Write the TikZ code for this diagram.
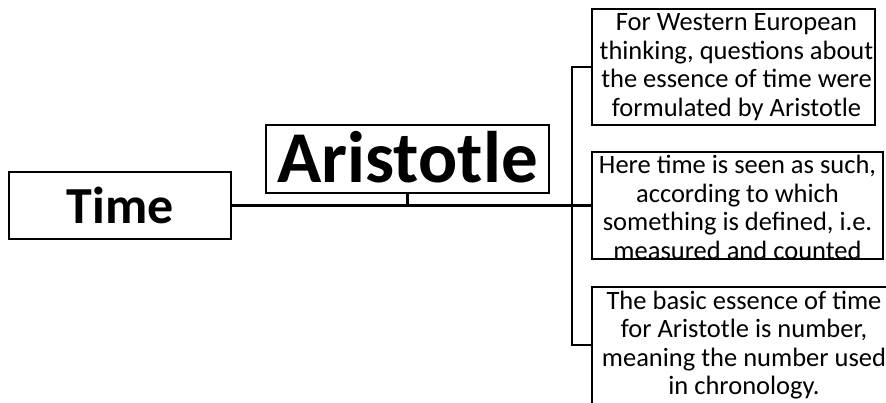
\documentclass[tikz,border=0pt]{standalone}
\usepackage{fontspec}
\setmainfont{Carlito}
\begin{document}
\begin{tikzpicture}[x=1pt,y=-1pt,
  box/.style={draw=black,line width=2.4pt,inner sep=0pt,fill=white},
  head/.style={font=\bfseries\fontsize{52}{56}\selectfont},
  title/.style={font=\bfseries\fontsize{73}{78}\selectfont},
  note/.style={font=\fontsize{26.5}{28.5}\selectfont,align=center,inner sep=0pt},
  link/.style={line width=2.4pt}]
\useasboundingbox (0,0) rectangle (886,402);
\clip (0,0) rectangle (886,402);

% boxes
\node[box,minimum width=222pt,minimum height=67pt] (time) at (120,205.5) {};
\node[box,minimum width=283pt,minimum height=68pt] (aris) at (407.5,159) {};
\node[box,minimum width=283pt,minimum height=116pt] (b1) at (733.5,67) {};
\node[box,minimum width=291pt,minimum height=107pt] (b2) at (737.5,205.5) {};
\node[box,minimum width=298pt,minimum height=120pt] (b3) at (741,347) {};

% connectors
\coordinate (fork) at (b2.west -| 572,0);
\draw[link] (time.east) -- (b2.west);
\draw[link] (aris.south) -- (aris.south |- time.east);
\draw[link] (b1.west) -| (fork) |- ([yshift=2pt]b3.west);

% texts
\node[head] (timetext) at (time.center) {Time};
\node[title] (aristext) at ([yshift=1.5pt]aris.center) {Aristotle};
\node[note] (t1) at ([xshift=3pt]b1.center) {For Western European\\thinking, questions about\\the essence of time were\\formulated by Aristotle};
\node[note] (t2) at ([yshift=-2pt]b2.center) {Here time is seen as such,\\according to which\\something is defined, i.e.\\measured and counted};
\node[note] (t3) at ([xshift=3pt,yshift=2pt]b3.center) {The basic essence of time\\for Aristotle is number,\\meaning the number used\\in chronology.};
\end{tikzpicture}
\end{document}
